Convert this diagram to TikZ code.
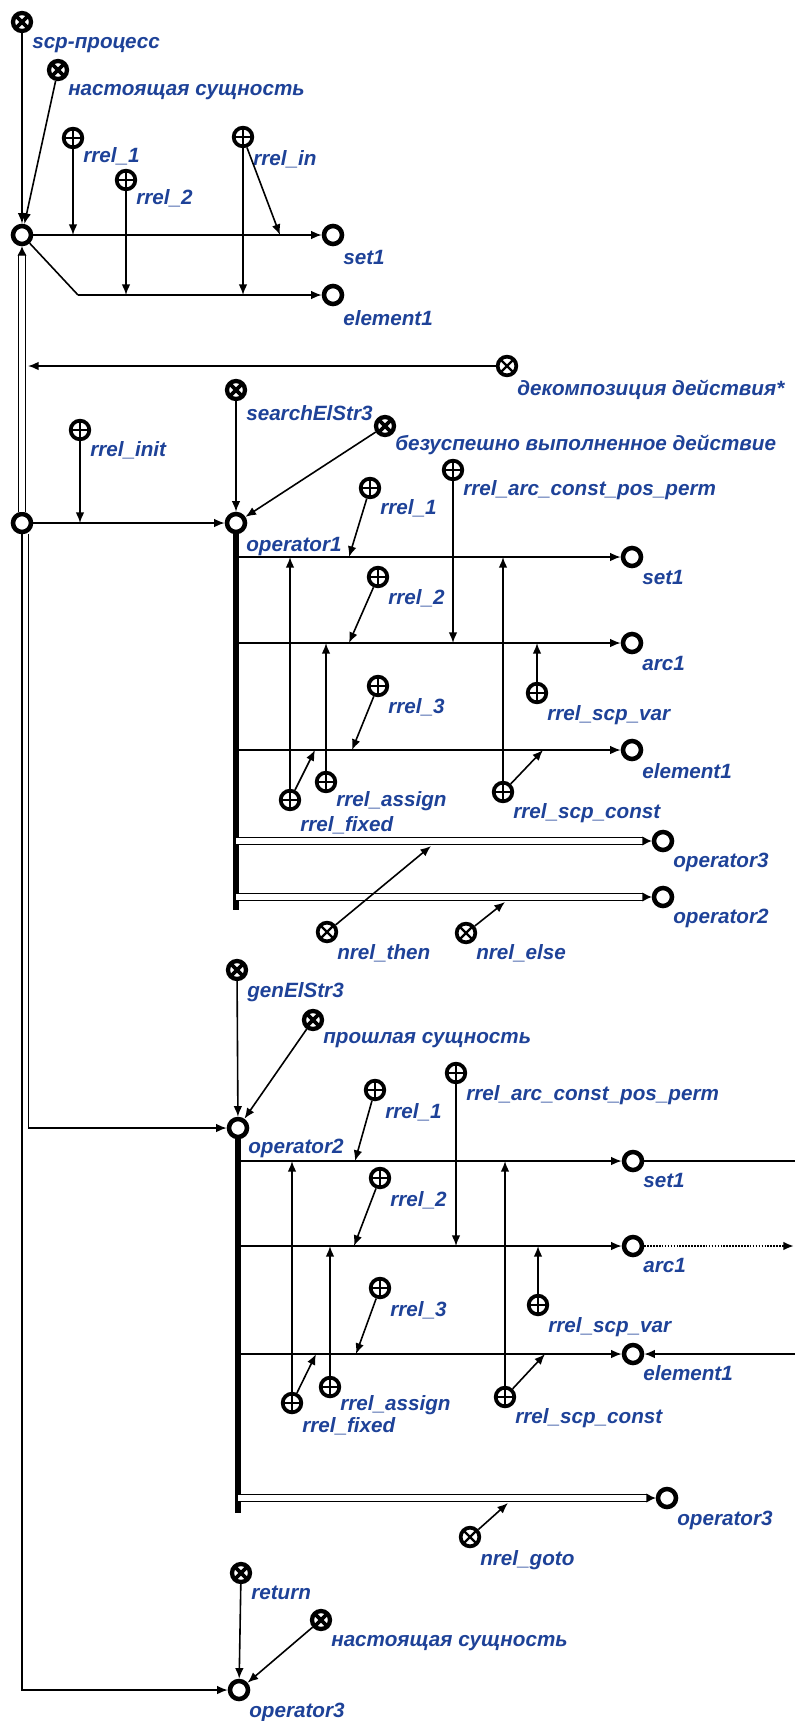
\documentclass[tikz,border=0pt]{standalone}
\usepackage{fontspec}
\setmainfont{Liberation Sans}
\usepackage{tikz}
\usetikzlibrary{arrows.meta}
\definecolor{scgBlue}{RGB}{30,66,152}
\tikzset{
  el/.style={circle,draw,line width=3.4pt,minimum size=13.5pt,inner sep=0pt},
  role/.style={circle,draw,line width=2.8pt,minimum size=14pt,inner sep=0pt,
    path picture={\draw[line width=1.8pt]
      (path picture bounding box.north) -- (path picture bounding box.south)
      (path picture bounding box.west) -- (path picture bounding box.east);}},
  cls/.style={circle,draw,line width=3.2pt,minimum size=13.5pt,inner sep=0pt,
    path picture={\draw[line width=2.8pt]
      (path picture bounding box.north west) -- (path picture bounding box.south east)
      (path picture bounding box.north east) -- (path picture bounding box.south west);}},
  rel/.style={circle,draw,line width=2.8pt,minimum size=14pt,inner sep=0pt,
    path picture={\draw[line width=1.8pt]
      (path picture bounding box.north west) -- (path picture bounding box.south east)
      (path picture bounding box.north east) -- (path picture bounding box.south west);}},
  lbl/.style={anchor=west,inner sep=0pt,text=scgBlue,
    font=\fontsize{15.5}{18}\selectfont\bfseries\itshape},
  arc/.style={line width=1.2pt,-{Latex[length=8pt,width=6.5pt]}},
  plain/.style={line width=1.2pt},
  dotarc/.style={arc,densely dotted,line width=1.8pt},
  dbl/.style={line width=0.9pt,double=white,double distance=4.5pt,
    -{Latex[length=7pt,width=7pt]}},
  opline/.style={line width=4.5pt}
}

\begin{document}
\begin{tikzpicture}[x=0.75pt,y=-0.75pt]
\useasboundingbox (0,0) rectangle (795,1721);

% unlabelled nodes
\node[el] (proc) at (22,235) {};
\node[el] (act) at (22,523) {};

% labelled nodes: name/x/y/style/label offset/text
\foreach \nm/\x/\y/\st/\dy/\txt in {
  scp/22/22/cls/23/{scp-процесс},
  cur/58/70/cls/22/{настоящая сущность},
  ra/73/138/role/18/{rrel\_1},
  rb/126/180/role/18/{rrel\_2},
  rin/243/137/role/22/{rrel\_in},
  setA/333/235/el/22/{set1},
  elA/333/295/el/23/{element1},
  dec/507/366/rel/24/{декомпозиция действия*},
  rinit/80/430/role/20/{rrel\_init},
  srch/236/390/cls/23/{searchElStr3},
  fail/385/426/cls/19/{безуспешно выполненное действие},
  opA/236/523/el/24/{operator1},
  rpermA/453/470/role/20/{rrel\_arc\_const\_pos\_perm},
  r1A/370/488/role/20/{rrel\_1},
  setB/632/557/el/20/{set1},
  r2A/378/577/role/21/{rrel\_2},
  arcB/632/643/el/20/{arc1},
  r3A/378/686/role/21/{rrel\_3},
  varA/537/693/role/22/{rrel\_scp\_var},
  elB/632/750/el/21/{element1},
  fixA/290/800/role/25/{rrel\_fixed},
  asgA/326/782/role/19/{rrel\_assign},
  cnstA/503/792/role/21/{rrel\_scp\_const},
  op3A/663/841/el/21/{operator3},
  op2A/663/897/el/21/{operator2},
  thenA/327/932/rel/21/{nrel\_then},
  elseA/466/933/rel/20/{nrel\_else},
  gen/237/970/cls/22/{genElStr3},
  past/313/1020/cls/20/{прошлая сущность},
  opB/238/1128/el/20/{operator2},
  rpermB/456/1073/role/22/{rrel\_arc\_const\_pos\_perm},
  r1B/375/1090/role/22/{rrel\_1},
  setC/633/1161/el/19/{set1},
  r2B/380/1178/role/22/{rrel\_2},
  arcC/633/1246/el/19/{arc1},
  r3B/380/1288/role/22/{rrel\_3},
  varB/538/1305/role/22/{rrel\_scp\_var},
  elC/633/1354/el/19/{element1},
  fixB/292/1403/role/23/{rrel\_fixed},
  asgB/330/1387/role/18/{rrel\_assign},
  cnstB/505/1397/role/21/{rrel\_scp\_const},
  op3B/667/1498/el/22/{operator3},
  gotoB/470/1537/rel/23/{nrel\_goto},
  ret/241/1573/cls/20/{return},
  curB/321/1620/cls/23/{настоящая сущность},
  op3C/239/1690/el/22/{operator3}}
{
  \node[\st] (\nm) at (\x,\y) {};
  \node[lbl] (\nm-l) at (\x+10,\y+\dy) {\txt};
}

% points on arcs
\coordinate (ra-e) at (73,235);
\coordinate (rin-e1) at (280,235);
\coordinate (elbA) at (78,295);
\coordinate (rb-e) at (126,295);
\coordinate (rin-e2) at (243,295);
\coordinate (dec-e) at (28,366);
\coordinate (rinit-e) at (80,523);
\coordinate (opA-end) at (236,910);
\coordinate (rowA1) at (236,557);
\coordinate (rowA2) at (236,643);
\coordinate (rowA3) at (236,750);
\coordinate (rowA4) at (236,841);
\coordinate (rowA5) at (236,897);
\coordinate (opB-end) at (238,1513);
\coordinate (rowB1) at (238,1161);
\coordinate (rowB2) at (238,1246);
\coordinate (rowB3) at (238,1354);
\coordinate (rowB4) at (238,1498);
\coordinate (setC-out) at (795,1161);
\coordinate (arcC-out) at (794,1246);
\coordinate (elC-in) at (795,1354);

% first block
\draw[arc] (scp) -- (proc);
\draw[arc] (cur) -- (proc);
\draw[arc] (proc) -- (setA);
\draw[plain] (proc) -- (elbA);
\draw[arc] (elbA) -- (elA);
\draw[arc] (ra) -- (ra-e);
\draw[arc] (rin) -- (rin-e1);
\draw[arc] (rb) -- (rb-e);
\draw[arc] (rin) -- (rin-e2);
\draw[dbl] (act) -- (proc);
\draw[arc] (dec) -- (dec-e);

% operator1
\draw[arc] (act) -- (opA);
\draw[arc] (rinit) -- (rinit-e);
\draw[arc] (srch) -- (opA);
\draw[arc] (fail) -- (opA);
\draw[opline] (opA) -- (opA-end);
\draw[arc] (rowA1) -- (setB);
\draw[arc] (rowA2) -- (arcB);
\draw[arc] (rowA3) -- (elB);
\draw[arc] (r1A) -- (349,557);
\draw[arc] (r2A) -- (349,643);
\draw[arc] (r3A) -- (352,750);
\draw[arc] (rpermA) -- (453,643);
\draw[arc] (fixA) -- (290,557);
\draw[arc] (fixA) -- (315,750);
\draw[arc] (asgA) -- (326,643);
\draw[arc] (cnstA) -- (503,557);
\draw[arc] (cnstA) -- (543,750);
\draw[arc] (varA) -- (537,643);
\draw[dbl] (rowA4) -- (op3A);
\draw[dbl] (rowA5) -- (op2A);
\draw[arc] (thenA) -- (431,846);
\draw[arc] (elseA) -- (505,902);

% operator2
\draw[arc] ([xshift=5pt]act.south) |- (opB);
\draw[arc] (gen) -- (opB);
\draw[arc] (past) -- (opB);
\draw[opline] (opB) -- (opB-end);
\draw[arc] (rowB1) -- (setC);
\draw[arc] (rowB2) -- (arcC);
\draw[arc] (rowB3) -- (elC);
\draw[plain] (setC) -- (setC-out);
\draw[dotarc] (arcC) -- (arcC-out);
\draw[arc] (elC-in) -- (elC);
\draw[arc] (r1B) -- (355,1161);
\draw[arc] (r2B) -- (354,1246);
\draw[arc] (r3B) -- (356,1354);
\draw[arc] (rpermB) -- (456,1246);
\draw[arc] (fixB) -- (292,1161);
\draw[arc] (fixB) -- (316,1354);
\draw[arc] (asgB) -- (330,1246);
\draw[arc] (cnstB) -- (505,1161);
\draw[arc] (cnstB) -- (545,1354);
\draw[arc] (varB) -- (538,1246);
\draw[dbl] (rowB4) -- (op3B);
\draw[arc] (gotoB) -- (508,1503);

% operator3
\draw[arc] (ret) -- (op3C);
\draw[arc] (curB) -- (op3C);
\draw[arc] (act) |- (op3C);
\end{tikzpicture}
\end{document}
